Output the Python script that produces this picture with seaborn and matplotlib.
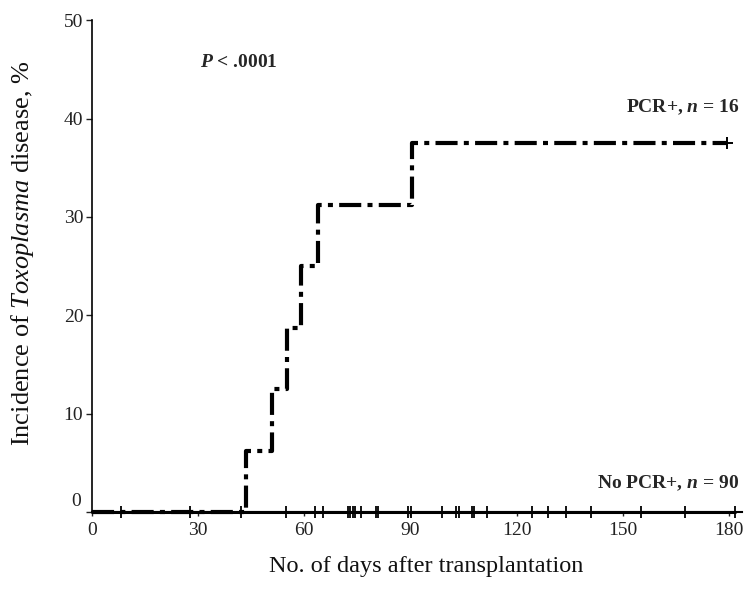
import matplotlib

matplotlib.use("Agg")
import matplotlib.pyplot as plt
import numpy as np
import pandas as pd
import seaborn as sns

# PCR+ group (n = 16): cumulative incidence steps
pcr_days = [0, 43.7, 50.8, 55.2, 59.1, 63.9, 90.4, 179.5]
pcr_incidence = [0, 6.25, 12.5, 18.75, 25.0, 31.25, 37.5, 37.5]

# No PCR+ group (n = 90): no events, censored follow-up times
no_pcr_days = [0, 181.6]
no_pcr_incidence = [0, 0]
censor_days = [8.2, 27.7, 42.3, 54.8, 63.0, 65.2, 72.3, 72.9, 73.7, 74.4, 76.0,
               80.2, 80.9, 89.4, 90.1, 99.0, 103.0, 103.8, 107.3, 107.9, 111.7,
               124.2, 128.9, 133.9, 140.9, 155.2, 167.5, 181.6]

x_ticks = [0, 30, 60, 90, 120, 150, 180]
y_ticks = [0, 10, 20, 30, 40, 50]

sns.set_theme(style="ticks")
plt.rcParams["font.family"] = ["Liberation Serif", "DejaVu Serif"]
plt.rcParams["mathtext.fontset"] = "custom"
plt.rcParams["mathtext.rm"] = "Liberation Serif"
plt.rcParams["mathtext.it"] = "Liberation Serif:italic"
plt.rcParams["mathtext.bf"] = "Liberation Serif:bold"
plt.rcParams["mathtext.bfit"] = "Liberation Serif:italic:bold"

fig = plt.figure(figsize=(7.45, 6.04), dpi=100)
ax = fig.add_axes([0.123, 0.152, 0.8725, 0.8146])

pcr = pd.DataFrame({"day": pcr_days, "incidence": pcr_incidence})
no_pcr = pd.DataFrame({"day": no_pcr_days, "incidence": no_pcr_incidence})

sns.lineplot(data=no_pcr, x="day", y="incidence", ax=ax, color="black",
             linewidth=2.2, estimator=None, clip_on=False, zorder=3)
sns.lineplot(data=pcr, x="day", y="incidence", ax=ax, color="black",
             linewidth=3.0, estimator=None, drawstyle="steps-post",
             linestyle=(0, (5.3, 1.5, 1.2, 1.5)), clip_on=False, zorder=4)

ax.plot(censor_days, np.zeros(len(censor_days)), linestyle="none", marker="|",
        markersize=9, markeredgewidth=1.3, color="black", clip_on=False, zorder=5)
ax.plot(pcr_days[-1:], pcr_incidence[-1:], linestyle="none", marker="+",
        markersize=9, markeredgewidth=1.4, color="black", clip_on=False, zorder=5)

ax.set_xlim(0, 183.5)
ax.set_ylim(0, 50)
ax.set_xticks(x_ticks)
ax.set_yticks(y_ticks)
ax.set_yticklabels([""] + [str(t) for t in y_ticks[1:]])
ax.annotate("0", xy=(0, 0), xycoords=("axes fraction", "data"), xytext=(-8, 8),
            textcoords="offset points", ha="right", va="center", fontsize=14,
            color="#222222")
ax.tick_params(axis="x", direction="out", length=3, width=1, pad=4,
               labelsize=14, colors="#222222")
ax.tick_params(axis="y", direction="out", length=4, width=1, pad=2,
               labelsize=14, colors="#222222")
sns.despine(ax=ax)
ax.spines["left"].set_linewidth(1.2)
ax.spines["bottom"].set_linewidth(1.5)
ax.spines["left"].set_color("black")
ax.spines["bottom"].set_color("black")

ax.set_xlabel("No. of days after transplantation", fontsize=17.5, color="#111111")
ax.xaxis.set_label_coords(0.514, -0.11)
ax.xaxis.label.set_va("center")
ax.set_ylabel(r"Incidence of $\mathit{Toxoplasma}$ disease, %", fontsize=19,
              color="#111111")
ax.yaxis.set_label_coords(-0.107, 0.526)
ax.yaxis.label.set_va("center")

ax.text(30.6, 45.7, r"$\mathbfit{P}$ < .0001", fontsize=14, fontweight="bold",
        ha="left", va="center")
ax.text(182.8, 41.2, r"PCR+, $\mathbfit{n}$ = 16", fontsize=14, fontweight="bold",
        ha="right", va="center")
ax.text(182.8, 2.9, r"No PCR+, $\mathbfit{n}$ = 90", fontsize=14, fontweight="bold",
        ha="right", va="center")

fig.savefig("out.png", dpi=100)
